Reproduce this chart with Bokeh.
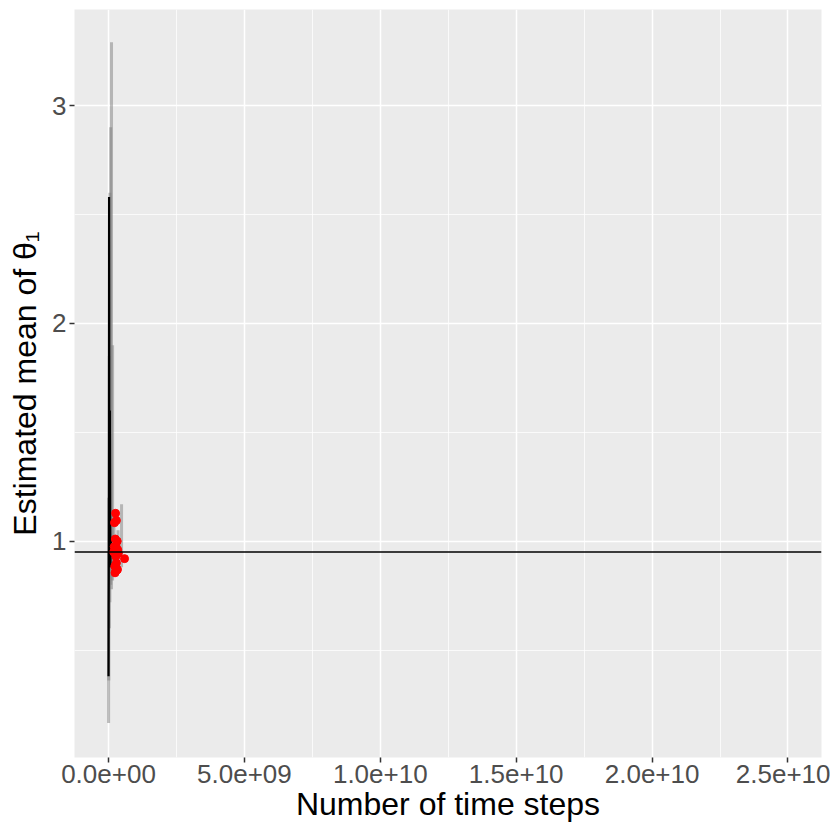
from bokeh.plotting import figure
from bokeh.models import FixedTicker, Range1d, Span
from bokeh.embed import file_html
from bokeh.resources import INLINE

# ---- data ----
# running estimate trajectory (black line)
traj_steps = [1.0e6, 3.0e6, 6.0e6, 1.0e7, 1.5e7, 2.0e7, 2.5e7, 3.0e7, 4.0e7, 5.0e7,
              6.0e7, 7.0e7, 8.0e7, 1.0e8, 1.2e8, 1.5e8, 1.8e8, 2.2e8, 2.6e8, 3.0e8]
traj_mean = [0.38, 0.52, 0.70, 0.84, 1.45, 2.58, 2.10, 1.30, 0.92, 1.60,
             1.15, 0.88, 1.02, 0.93, 0.99, 0.96, 0.94, 0.97, 0.95, 0.95]

# interval bars (gray)
bar_steps = [3.0e6, 1.0e7, 3.0e7, 5.0e7, 8.0e7, 1.1e8, 1.5e8, 2.0e8, 3.5e8, 4.8e8]
bar_lower = [0.165, 0.36, 0.60, 0.72, 0.80, 0.78, 0.82, 0.85, 0.86, 0.88]
bar_upper = [0.95, 1.20, 1.85, 2.60, 2.90, 3.29, 1.90, 1.10, 1.05, 1.17]

# final estimates (red points)
pt_steps = [2.6e8, 2.2e8, 2.9e8, 2.5e8, 3.2e8, 2.8e8, 1.9e8, 3.6e8, 5.9e8, 2.9e8,
            2.3e8, 3.0e8, 2.4e8, 3.3e8, 2.7e8, 3.4e8, 2.1e8]
pt_mean = [1.128, 1.085, 1.095, 1.010, 1.000, 0.975, 0.950, 0.945, 0.920, 0.900,
           0.885, 0.867, 0.855, 0.870, 0.930, 0.960, 0.975]

true_value = 0.95

x_ticks = [0, 5000000000, 10000000000, 15000000000, 20000000000, 25000000000]
x_tick_labels = ["0.0e+00", "5.0e+09", "1.0e+10", "1.5e+10", "2.0e+10", "2.5e+10"]
x_minor = [2.5e9, 7.5e9, 1.25e10, 1.75e10, 2.25e10]
y_ticks = [1, 2, 3]
y_tick_labels = ["1", "2", "3"]
y_minor = [0.5, 1.5, 2.5]

x_title = "Number of time steps"
y_title = "Estimated mean of \u03b8\u2081"

# ---- figure ----
p = figure(width=830, height=830, output_backend="svg", toolbar_location=None,
           x_range=Range1d(-1.2515e9, 2.6233e10), y_range=Range1d(0.0071, 3.4407),
           min_border_left=74, min_border_right=9, min_border_top=9, min_border_bottom=73)
p.background_fill_color = "#EBEBEB"
p.border_fill_color = "white"
p.outline_line_color = None

p.xaxis.ticker = FixedTicker(ticks=x_ticks, minor_ticks=x_minor)
p.yaxis.ticker = FixedTicker(ticks=y_ticks, minor_ticks=y_minor)
p.xaxis.major_label_overrides = dict(zip(x_ticks, x_tick_labels))
p.yaxis.major_label_overrides = dict(zip(y_ticks, y_tick_labels))

for ax in (p.xaxis, p.yaxis):
    ax.axis_line_color = None
    ax.major_tick_line_color = "#333333"
    ax.major_tick_line_width = 1.5
    ax.major_tick_out = 5
    ax.major_tick_in = 0
    ax.minor_tick_out = 0
    ax.minor_tick_in = 0
    ax.major_label_text_font = "Liberation Sans"
    ax.major_label_text_font_size = "26px"
    ax.major_label_text_color = "#4D4D4D"
    ax.axis_label_text_font = "Liberation Sans"
    ax.axis_label_text_font_size = "32px"
    ax.axis_label_text_font_style = "normal"
    ax.axis_label_text_color = "black"

p.xaxis.axis_label = x_title
p.yaxis.axis_label = y_title
p.xaxis.major_label_standoff = 2
p.yaxis.major_label_standoff = 3
p.xaxis.axis_label_standoff = 0
p.yaxis.axis_label_standoff = 6

for g in (p.xgrid, p.ygrid):
    g.grid_line_color = "white"
    g.grid_line_width = 1.5
    g.minor_grid_line_color = "white"
    g.minor_grid_line_width = 0.75

# gray interval bars
p.segment(x0=bar_steps, y0=bar_lower, x1=bar_steps, y1=bar_upper,
          line_color="gray", line_alpha=0.5, line_width=3)

# black trajectory
p.line(traj_steps, traj_mean, line_color="black", line_width=2.2)

# red points
p.scatter(pt_steps, pt_mean, size=8, fill_color="#FF0000", line_color="#FF0000")

# reference line
p.add_layout(Span(location=true_value, dimension="width", line_color="black", line_width=1.5))

open("out.html", "w").write(file_html(p, INLINE))
